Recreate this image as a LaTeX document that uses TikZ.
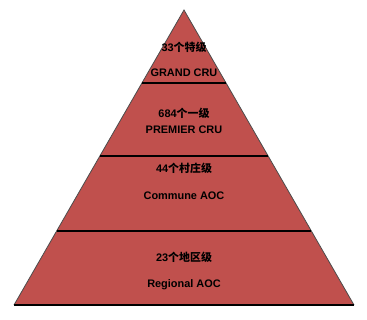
\documentclass[tikz,border=0pt]{standalone}
\usepackage{fontspec}
\setmainfont{Liberation Sans}
\newfontfamily\cjk{Noto Sans CJK SC}
\usepackage{xcolor}
\definecolor{tier}{HTML}{C0504D}
\definecolor{label}{HTML}{FFF2F2}
\usepackage{tikz}
\usetikzlibrary{calc}

\newcommand\zh[1]{{\cjk\bfseries #1}}

\begin{document}
\begin{tikzpicture}[x=0.75pt, y=-0.75pt, font=\bfseries\fontsize{8.2}{9}\selectfont]
  \useasboundingbox (0,0) rectangle (367,319);
  \tikzset{
    edge/.style={black, line width=0.8pt},
    tierlabel/.style={label, inner sep=0pt},
  }
  \coordinate (apex) at (184,10);
  \coordinate (bl) at (14,305);
  \coordinate (br) at (354,305);
  \fill[tier] (apex) -- (br) -- (bl) -- cycle;
  \draw[black!70, line width=0.6pt] (bl) -- (apex) -- (br);
  \draw[edge] (bl) -- (br);
  \foreach \y/\n in {83/a, 156/b, 231/c} {
    \coordinate (l\n) at ($(apex)!{(\y-10)/295}!(bl)$);
    \coordinate (r\n) at ($(apex)!{(\y-10)/295}!(br)$);
    \draw[edge] (l\n) -- (r\n);
  }
  \node[tierlabel] (t1a) at (184, 47) {33\zh{个特级}};
  \node[tierlabel] (t1b) at (184, 73) {GRAND CRU};
  \node[tierlabel] (t2a) at (184,113) {684\zh{个一级}};
  \node[tierlabel] (t2b) at (184,130) {PREMIER CRU};
  \node[tierlabel] (t3a) at (184,168) {44\zh{个村庄级}};
  \node[tierlabel] (t3b) at (184,196) {Commune AOC};
  \node[tierlabel] (t4a) at (184,257) {23\zh{个地区级}};
  \node[tierlabel] (t4b) at (184,285) {Regional AOC};
\end{tikzpicture}
\end{document}
